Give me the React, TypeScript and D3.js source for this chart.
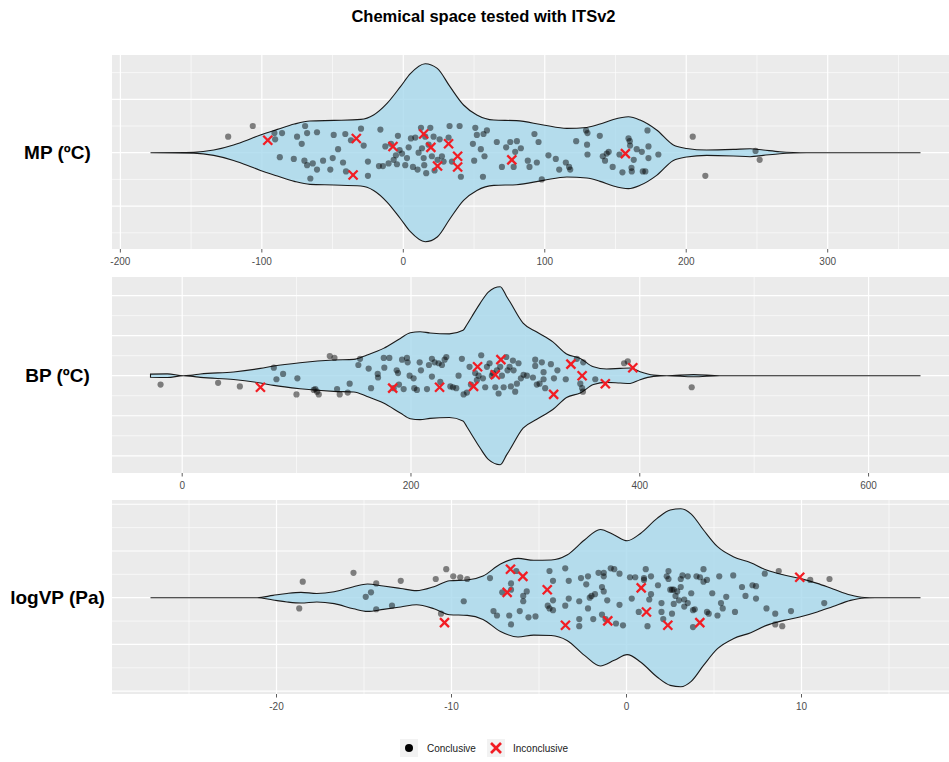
import React from 'react'
import * as d3 from 'd3'

// ---- data ----
// [value, jitter]  (jitter: +1 = top of widest violin, -1 = bottom)
const mpConclusive = [
  [-123.8,0.18],[-106.4,0.30],[-91.1,0.22],[-90.6,0.15],[-85.7,0.22],[-87.3,-0.05],[-77.4,-0.07],[-75.1,0.18],[-71.8,0.10],[-69.9,-0.09],
  [-68.0,-0.14],[-69.4,0.30],[-68.0,0.22],[-65.7,-0.29],[-64.0,-0.12],[-61.0,0.23],[-61.0,-0.19],[-56.7,-0.09],[-51.6,-0.19],[-49.9,-0.06],
  [-49.2,0.20],[-46.1,0.04],[-42.6,-0.11],[-41.0,0.21],[-40.5,-0.21],[-37.0,0.14],[-29.9,0.27],[-28.0,0.08],[-25.0,-0.10],[-25.0,-0.26],
  [-16.2,0.26],[-17.2,-0.15],[-14.4,-0.15],[-12.7,0.07],[-10.4,-0.12],[-8.7,0.10],[-6.8,-0.08],[-5.2,-0.03],[-3.8,0.19],[-4.5,-0.13],
  [-2.6,0.03],[-0.9,-0.01],[1.4,-0.14],[2.6,-0.06],[3.8,0.06],[5.4,0.16],[6.8,-0.16],[8.5,0.17],[10.1,-0.19],[10.8,0.0],
  [12.5,0.28],[13.2,0.05],[14.4,-0.06],[14.8,-0.14],[15.5,0.18],[16.2,-0.23],[17.9,0.09],[19.1,0.28],[20.2,-0.04],[21.4,0.18],
  [22.1,-0.20],[24.2,-0.08],[25.7,0.15],[27.3,-0.04],[28.5,-0.10],[32.0,0.17],[32.7,0.30],[34.4,-0.10],[39.8,0.30],[40.7,-0.27],
  [49.2,0.10],[50.9,0.28],[52.0,0.20],[50.1,-0.09],[54.8,0.04],[56.3,-0.27],[56.7,0.21],[59.1,0.25],[57.4,-0.04],[66.1,0.12],
  [69.7,-0.16],[72.7,0.06],[75.6,0.12],[78.0,-0.16],[80.3,0.13],[79.1,0.01],[83.1,0.05],[88.0,-0.09],[89.2,-0.16],[92.7,0.21],
  [94.4,-0.11],[95.6,0.12],[97.9,-0.30],[102.6,-0.03],[107.8,-0.07],[110.2,-0.19],[114.9,-0.11],[117.2,-0.16],[118.0,-0.19],[122.2,0.13],
  [129.2,0.25],[130.2,0.22],[129.9,0.09],[130.2,-0.02],[138.9,0.19],[141.0,-0.04],[142.6,-0.09],[143.8,-0.01],[145.2,0.01],[148.0,-0.16],
  [152.8,-0.02],[154.9,-0.22],[159.2,0.16],[160.1,0.13],[160.3,0.08],[161.3,-0.17],[161.5,-0.21],[162.9,-0.08],[165.0,0.04],[168.6,0.01],
  [169.3,-0.21],[171.1,-0.21],[172.6,0.25],[173.3,0.07],[173.3,-0.06],[180.3,-0.02],[204.6,0.18],[213.5,-0.26],[249.0,0.02],[251.9,-0.08],
]
const mpInconclusive = [
  [-95.8,0.14],[-33.2,0.16],[-35.5,-0.25],[-7.3,0.07],[14.4,0.21],[19.5,0.06],[32.0,0.10],[38.4,-0.04],[38.4,-0.16],[24.2,-0.15],[76.7,-0.08],[157.0,-0.01],
]
// [value, half width relative to widest point]
const mpDensity = [
  [-178.7,0],[-148,0.005],[-134,0.03],[-120,0.087],[-110,0.143],[-101,0.2],[-89,0.262],[-77,0.322],[-66,0.356],[-49,0.363],
  [-30,0.374],[-21,0.424],[-11.5,0.554],[-2,0.742],[5,0.888],[15.5,1.0],[24,0.947],[33,0.742],[42.6,0.536],[52,0.424],
  [64,0.367],[80,0.36],[99,0.311],[115.6,0.273],[129.7,0.284],[139.1,0.322],[148.5,0.374],[159.1,0.404],[167.4,0.367],[179.1,0.255],
  [190.9,0.087],[200.3,0.048],[214.4,0.03],[233.3,0.037],[245.1,0.045],[254.5,0.03],[266.2,0.011],[275.7,0.003],[285,0],[365.6,0],
]

const bpConclusive = [
  [-18.9,-0.10],[31.4,-0.08],[50.4,-0.12],[80.1,0.09],[82.4,-0.04],[88.2,0.02],[99.9,-0.21],[100.7,-0.03],[115.0,-0.16],[116.4,-0.15],
  [117.9,-0.18],[119.4,-0.21],[129.0,0.22],[133.1,0.20],[135.4,-0.15],[137.7,-0.21],[144.7,-0.19],[146.4,-0.09],[154.0,0.12],[155.5,0.19],
  [163.0,0.08],[165.1,-0.14],[170.9,0.02],[171.2,-0.02],[176.2,0.20],[176.7,0.09],[181.1,0.20],[184.9,-0.14],[187.5,0.06],[188.7,0.03],
  [189.5,-0.10],[192.2,0.18],[193.6,-0.15],[196.5,0.20],[197.1,0.15],[198.8,0.0],[202.3,-0.03],[202.9,-0.14],[205.2,-0.16],[207.6,0.15],
  [208.7,0.06],[214.0,-0.15],[215.7,0.12],[218.3,0.19],[218.3,-0.01],[220.7,0.15],[224.2,0.14],[225.6,-0.07],[227.1,0.12],[229.4,0.18],
  [230.9,0.21],[234.4,-0.12],[236.7,-0.13],[239.6,-0.14],[241.6,0.0],[244.5,0.19],[246.0,-0.21],[248.9,-0.19],[251.2,0.10],[252.4,-0.10],
  [256.1,0.03],[257.6,-0.05],[259.1,0.0],[261.4,0.23],[262.9,-0.03],[264.9,-0.13],[266.4,0.10],[268.7,0.14],[270.7,0.0],[271.6,0.03],
  [273.7,-0.13],[275.1,0.06],[276.6,-0.20],[278.0,0.10],[279.5,0.0],[281.0,-0.13],[283.3,0.21],[284.4,0.06],[286.2,0.10],[287.3,-0.12],
  [289.1,0.17],[289.7,0.06],[291.1,-0.18],[292.6,-0.09],[294.0,0.14],[296.1,-0.03],[298.4,0.01],[301.3,0.0],[306.6,-0.02],[308.6,0.18],
  [308.6,0.11],[310.0,-0.10],[312.4,-0.09],[314.4,0.15],[315.9,0.04],[315.9,-0.04],[317.3,-0.14],[322.3,0.13],[325.0,-0.03],[328.0,0.06],
  [335.3,-0.04],[345.0,0.19],[350.6,0.15],[348.0,-0.09],[349.6,-0.14],[350.3,-0.18],[361.1,-0.04],[386.3,0.14],[389.5,0.16],[445.4,-0.13],
]
const bpInconclusive = [
  [68.4,-0.13],[184.0,-0.14],[225.0,-0.13],[254.7,-0.12],[258.2,0.10],[278.6,0.18],[273.7,0.01],[324.7,-0.21],[339.8,0.13],[349.6,0.0],[369.9,-0.09],[393.9,0.09],
]
const bpDensity = [
  [-27.7,0.018],[-13,0.02],[1,0.0],[7.3,0.005],[16,0.019],[45,0.042],[68.4,0.082],[80,0.109],[103,0.146],[132.5,0.176],
  [150,0.183],[161.6,0.233],[176,0.307],[190.7,0.419],[199.4,0.483],[208,0.494],[216.6,0.48],[233.6,0.47],[245.5,0.51],[248.7,0.57],
  [253,0.66],[260.3,0.81],[267.6,0.94],[278,1.0],[283.6,0.89],[286.5,0.83],[298,0.59],[310,0.49],[324,0.38],[336,0.244],
  [348,0.194],[359.5,0.10],[371,0.075],[382.8,0.082],[391.6,0.087],[400.3,0.045],[412,0.008],[423.6,0],[447,0.012],[470,0],[645.4,0],
]

const vpConclusive = [
  [-18.7,-0.12],[-18.5,0.18],[-15.6,0.28],[-14.9,0.01],[-14.6,0.06],[-14.3,0.16],[-14.3,-0.13],[-13.4,-0.09],[-12.9,0.19],[-10.9,0.21],
  [-10.6,-0.18],[-10.3,0.32],[-9.9,0.24],[-9.5,0.23],[-9.3,-0.04],[-9.1,0.21],[-7.8,0.22],[-7.6,-0.15],[-7.4,-0.20],[-7.1,0.06],
  [-6.7,-0.20],[-6.6,0.16],[-6.6,0.09],[-6.6,-0.30],[-6.3,0.30],[-6.1,-0.15],[-5.9,-0.04],[-5.9,0.02],[-5.7,0.07],[-5.6,-0.22],
  [-5.2,-0.21],[-4.5,-0.09],[-4.4,0.30],[-4.4,-0.12],[-4.2,0.19],[-4.2,-0.03],[-4.2,-0.14],[-3.5,0.33],[-3.3,0.19],[-3.5,-0.09],
  [-3.3,-0.01],[-2.7,-0.04],[-2.7,-0.24],[-2.7,-0.32],[-2.6,0.22],[-2.3,0.15],[-2.2,0.24],[-2.2,-0.12],[-2.1,0.0],[-2.0,0.02],
  [-1.8,0.04],[-1.9,-0.24],[-1.6,0.28],[-1.4,0.12],[-1.4,-0.19],[-1.3,0.28],[-1.3,0.24],[-1.3,0.07],[-1.1,-0.03],[-1.2,-0.24],
  [-0.9,0.33],[-0.7,0.32],[-0.6,-0.29],[-0.4,-0.08],[-0.4,0.27],[-0.2,-0.31],[0.2,0.23],[0.3,-0.01],[0.5,0.23],[0.7,-0.16],
  [1.0,0.20],[1.0,0.22],[1.1,0.32],[1.2,-0.32],[1.3,-0.02],[1.4,0.24],[1.4,0.04],[1.8,0.14],[2.0,-0.16],[2.0,-0.06],
  [2.1,-0.24],[2.3,0.24],[2.4,0.30],[2.4,0.21],[2.5,0.09],[2.6,-0.18],[2.6,0.09],[2.7,-0.07],[2.7,0.09],[2.8,0.02],
  [2.9,0.07],[3.0,-0.03],[3.1,0.21],[3.1,0.12],[3.2,0.25],[3.3,-0.10],[3.3,-0.02],[3.5,0.24],[3.5,-0.06],[3.7,0.05],
  [3.8,-0.14],[3.8,-0.33],[3.9,-0.13],[4.0,0.24],[4.2,0.23],[4.4,0.32],[4.4,0.18],[4.6,0.20],[4.6,-0.16],[4.7,-0.18],
  [4.9,0.05],[5.2,-0.20],[5.3,0.24],[5.4,-0.06],[5.5,-0.12],[5.7,0.01],[6.1,0.25],[6.2,-0.16],[6.6,0.12],[6.8,0.02],
  [7.2,0.14],[7.4,0.13],[7.4,-0.01],[7.9,0.27],[8.0,-0.12],[8.5,-0.18],[8.5,-0.30],[8.7,0.30],[8.9,-0.32],[9.4,-0.15],
  [10.5,0.20],[11.3,-0.06],[11.6,0.21],
]
const vpInconclusive = [
  [-10.4,-0.28],[-6.63,0.32],[-5.92,0.24],[-6.82,0.06],[-4.53,0.09],[-3.49,-0.31],[-1.07,-0.26],[0.84,0.11],[1.14,-0.16],[2.36,-0.31],[4.19,-0.28],[9.9,0.23],
]
const vpDensity = [
  [-27.2,0],[-21.1,0],[-20.2,0.026],[-19.4,0.048],[-18.6,0.06],[-17.7,0.048],[-16.7,0.067],[-15.6,0.124],[-14.8,0.154],[-13.9,0.131],
  [-12.9,0.104],[-12.0,0.079],[-11.0,0.124],[-10.1,0.191],[-9.1,0.199],[-8.2,0.244],[-7.2,0.379],[-6.2,0.442],[-5.3,0.42],[-4.3,0.424],
  [-3.4,0.48],[-2.4,0.648],[-1.5,0.767],[-0.7,0.704],[0.04,0.64],[0.8,0.722],[1.75,0.891],[2.5,0.985],[3.1,1.0],[3.7,0.94],
  [4.4,0.761],[5.2,0.573],[6.1,0.461],[7.1,0.393],[8.0,0.311],[9.0,0.255],[9.9,0.217],[10.9,0.161],[11.8,0.098],[12.8,0.03],
  [13.6,0.003],[14.2,0],[16.8,0],
]

const mpTicks = [-200, -100, 0, 100, 200, 300]
const bpTicks = [0, 200, 400, 600]
const vpTicks = [-20, -10, 0, 10]

const labels = ['MP (ºC)', 'BP (ºC)', 'logVP (Pa)']
const legendLabels = ['Conclusive', 'Inconclusive']

const FONT = '"Liberation Sans", Arial, Helvetica, sans-serif'
const W = 949
const H = 762
const LEFT = 112
const RIGHT = 959 // panel runs past the cropped edge
const HALF = 89 // px of the widest violin half

const panels = [
  { label: labels[0], top: 55, bottom: 249, center: 152.7, density: mpDensity, dots: mpConclusive, crosses: mpInconclusive, ticks: mpTicks,
    yMajor: [-0.6, 0, 0.6], yMinor: [-0.9, -0.3, 0.3, 0.9] },
  { label: labels[1], top: 277, bottom: 473, center: 375.7, density: bpDensity, dots: bpConclusive, crosses: bpInconclusive, ticks: bpTicks,
    yMajor: [-0.9, -0.45, 0, 0.45, 0.9], yMinor: [-0.675, -0.225, 0.225, 0.675] },
  { label: labels[2], top: 500, bottom: 694, center: 597.7, density: vpDensity, dots: vpConclusive, crosses: vpInconclusive, ticks: vpTicks,
    yMajor: [-1.05, -0.525, 0, 0.525, 1.05], yMinor: [-0.7875, -0.2625, 0.2625, 0.7875] },
]

const Cross = ({ x, y, s, sw }) => (
  <g stroke="#f21d24" strokeWidth={sw} strokeLinecap="butt">
    <line x1={x - s} y1={y - s} x2={x + s} y2={y + s} />
    <line x1={x - s} y1={y + s} x2={x + s} y2={y - s} />
  </g>
)

const Panel = ({ p, i }) => {
  const ext = d3.extent(p.density, d => d[0])
  const pad = (ext[1] - ext[0]) * 0.05
  const x = d3.scaleLinear().domain([ext[0] - pad, ext[1] + pad]).range([LEFT, RIGHT])
  const y = d3.scaleLinear().domain([-1, 1]).range([p.center + HALF, p.center - HALF])

  // minor breaks halfway between majors
  const step = p.ticks[1] - p.ticks[0]
  const minor = d3.range(p.ticks[0] - step / 2, x.domain()[1], step).filter(v => v > x.domain()[0])

  const area = d3.area()
    .x(d => x(d[0]))
    .y0(d => y(-d[1]))
    .y1(d => y(d[1]))
    .curve(d3.curveMonotoneX)

  const clipId = `clip${i}`
  return (
    <g>
      <defs>
        <clipPath id={clipId}>
          <rect x={LEFT} y={p.top} width={RIGHT - LEFT} height={p.bottom - p.top} />
        </clipPath>
      </defs>
      <rect x={LEFT} y={p.top} width={RIGHT - LEFT} height={p.bottom - p.top} fill="#ebebeb" />
      <g clipPath={`url(#${clipId})`}>
        {p.yMinor.map(v => (
          <line key={'ym' + v} x1={LEFT} x2={RIGHT} y1={y(v)} y2={y(v)} stroke="#fff" strokeWidth={0.6} />
        ))}
        {minor.map(v => (
          <line key={'xm' + v} x1={x(v)} x2={x(v)} y1={p.top} y2={p.bottom} stroke="#fff" strokeWidth={0.6} />
        ))}
        {p.yMajor.map(v => (
          <line key={'yM' + v} x1={LEFT} x2={RIGHT} y1={y(v)} y2={y(v)} stroke="#fff" strokeWidth={1.2} />
        ))}
        {p.ticks.map(v => (
          <line key={'xM' + v} x1={x(v)} x2={x(v)} y1={p.top} y2={p.bottom} stroke="#fff" strokeWidth={1.2} />
        ))}
        <path d={area(p.density)} fill="#a6d8ec" fillOpacity={0.8} stroke="#1a1a1a" strokeWidth={1.1} />
        {p.dots.map((d, k) => (
          <circle key={'d' + k} cx={x(d[0])} cy={y(d[1])} r={3.1} fill="#000" fillOpacity={0.47} />
        ))}
        {p.crosses.map((d, k) => (
          <Cross key={'c' + k} x={x(d[0])} y={y(d[1])} s={4.5} sw={2.3} />
        ))}
      </g>
      {p.ticks.map(v => (
        <g key={'t' + v}>
          <line x1={x(v)} x2={x(v)} y1={p.bottom} y2={p.bottom + 3.5} stroke="#333" strokeWidth={0.8} />
          <text x={x(v)} y={p.bottom + 12} textAnchor="middle" dominantBaseline="central"
            fontFamily={FONT} fontSize={10} fill="#4d4d4d">{v}</text>
        </g>
      ))}
      <text x={57.5} y={p.center} textAnchor="middle" dominantBaseline="central"
        fontFamily={FONT} fontSize={19} fontWeight="bold" fill="#000">{p.label}</text>
    </g>
  )
}

export default function App() {
  return (
    <svg width={W} height={H} viewBox={`0 0 ${W} ${H}`}
      style={{ position: 'absolute', left: 0, top: 0, background: '#fff' }}>
      <rect width={W} height={H} fill="#fff" />
      <text x={483.5} y={16} textAnchor="middle" dominantBaseline="central"
        fontFamily={FONT} fontSize={16.5} fontWeight="bold" fill="#000">Chemical space tested with ITSv2</text>
      {panels.map((p, i) => <Panel key={i} p={p} i={i} />)}
      {/* legend */}
      <g fontFamily={FONT} fontSize={10} fill="#1a1a1a">
        <rect x={400} y={739} width={18} height={18} fill="#f2f2f2" />
        <circle cx={409} cy={748} r={4} fill="#000" />
        <text x={427} y={748} dominantBaseline="central">{legendLabels[0]}</text>
        <rect x={487} y={739} width={18} height={18} fill="#f2f2f2" />
        <Cross x={496} y={748} s={5} sw={2.6} />
        <text x={513} y={748} dominantBaseline="central">{legendLabels[1]}</text>
      </g>
    </svg>
  )
}
